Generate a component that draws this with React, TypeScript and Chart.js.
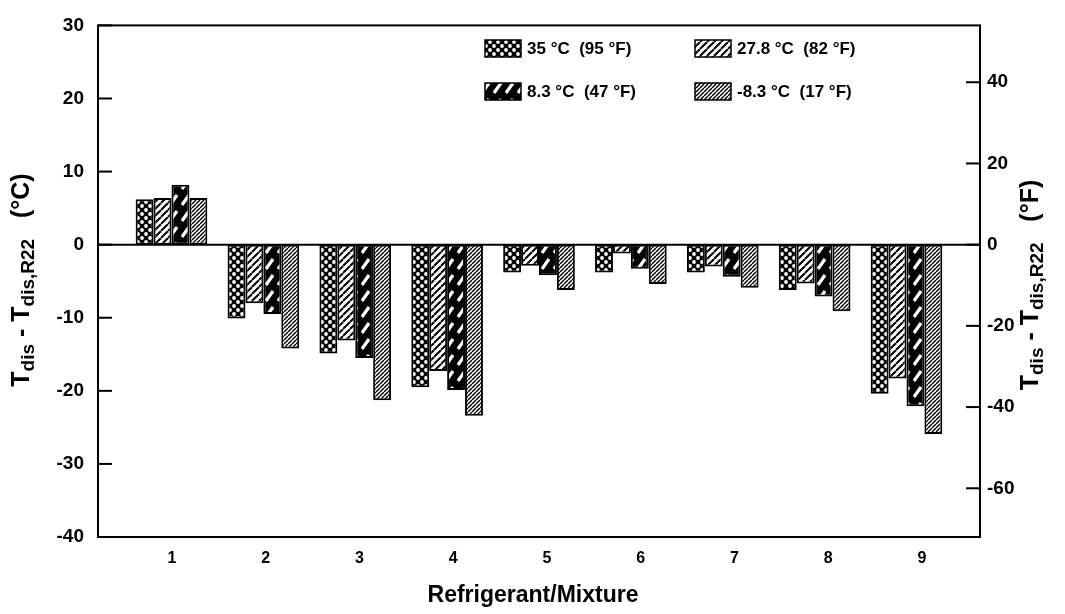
import React, { useEffect, useRef } from 'react';
import { Chart, registerables } from 'chart.js';
Chart.register(...registerables);

const categories = [1, 2, 3, 4, 5, 6, 7, 8, 9];
const seriesLabels = ['35 °C  (95 °F)', '27.8 °C  (82 °F)', '8.3 °C  (47 °F)', '-8.3 °C  (17 °F)'];
const s35 = [6.2, -10.1, -14.9, -19.5, -3.8, -3.8, -3.8, -6.2, -20.4];
const s278 = [6.4, -8.0, -13.1, -17.3, -2.9, -1.2, -3.0, -5.3, -18.3];
const s83 = [8.2, -9.5, -15.5, -19.9, -4.2, -3.3, -4.4, -7.1, -22.1];
const sm83 = [6.4, -14.2, -21.3, -23.4, -6.2, -5.4, -5.9, -9.1, -25.9];
const leftTicks = [30, 20, 10, 0, -10, -20, -30, -40];
const rightTicks = [40, 20, 0, -20, -40, -60];
const xTitle = 'Refrigerant/Mixture';

const FONT = '"Liberation Sans", Arial, Helvetica, sans-serif';

function makePattern(kind: number): CanvasPattern | string {
  const c = document.createElement('canvas');
  const ctx = c.getContext('2d');
  if (!ctx) return '#000';
  if (kind === 0) {
    c.width = 8; c.height = 8;
    ctx.fillStyle = '#000'; ctx.fillRect(0, 0, 8, 8);
    ctx.fillStyle = '#fff';
    [[2, 2], [6, 6]].forEach(([x, y]) => { ctx.beginPath(); ctx.arc(x, y, 1.9, 0, Math.PI * 2); ctx.fill(); });
  } else if (kind === 1) {
    c.width = 7; c.height = 7;
    ctx.fillStyle = '#fff'; ctx.fillRect(0, 0, 7, 7);
    ctx.strokeStyle = '#000'; ctx.lineWidth = 2;
    for (let k = -7; k <= 14; k += 7) { ctx.beginPath(); ctx.moveTo(k, 7); ctx.lineTo(k + 7, 0); ctx.stroke(); }
  } else if (kind === 2) {
    c.width = 12; c.height = 16;
    ctx.fillStyle = '#000'; ctx.fillRect(0, 0, 12, 16);
    ctx.strokeStyle = '#fff'; ctx.lineWidth = 3.2;
    ctx.beginPath(); ctx.moveTo(2, 13); ctx.lineTo(9, 3); ctx.stroke();
  } else {
    c.width = 4; c.height = 4;
    ctx.fillStyle = '#fff'; ctx.fillRect(0, 0, 4, 4);
    ctx.strokeStyle = '#000'; ctx.lineWidth = 1.4;
    for (let k = -4; k <= 8; k += 4) { ctx.beginPath(); ctx.moveTo(k, 4); ctx.lineTo(k + 4, 0); ctx.stroke(); }
  }
  return ctx.createPattern(c, 'repeat') || '#000';
}

function drawSubTitle(ctx: CanvasRenderingContext2D, cx: number, cy: number, unit: string) {
  const big = `bold 25px ${FONT}`;
  const small = `bold 19px ${FONT}`;
  const segs = [
    { t: 'T', f: big, dy: 0 },
    { t: 'dis', f: small, dy: 7 },
    { t: ' - T', f: big, dy: 0 },
    { t: 'dis,R22', f: small, dy: 7 },
    { t: `   (${unit})`, f: big, dy: 0 },
  ];
  ctx.save();
  ctx.translate(cx, cy);
  ctx.rotate(-Math.PI / 2);
  let total = 0;
  segs.forEach((s) => { ctx.font = s.f; total += ctx.measureText(s.t).width; });
  let x = -total / 2;
  ctx.fillStyle = '#000';
  ctx.textBaseline = 'middle';
  ctx.textAlign = 'left';
  segs.forEach((s) => { ctx.font = s.f; ctx.fillText(s.t, x, s.dy); x += ctx.measureText(s.t).width; });
  ctx.restore();
}

const framePlugin = {
  id: 'frame',
  afterDatasetsDraw(chart: any) {
    const { ctx, chartArea: a, scales } = chart;
    ctx.save();
    ctx.strokeStyle = '#000';
    ctx.lineWidth = 2;
    const y0 = scales.y.getPixelForValue(0);
    ctx.beginPath(); ctx.moveTo(a.left, y0); ctx.lineTo(a.right, y0); ctx.stroke();
    ctx.strokeRect(a.left, a.top, a.right - a.left, a.bottom - a.top);
    leftTicks.forEach((v) => {
      const y = scales.y.getPixelForValue(v);
      ctx.beginPath(); ctx.moveTo(a.left, y); ctx.lineTo(a.left + 14, y); ctx.stroke();
    });
    rightTicks.forEach((v) => {
      const y = scales.yF.getPixelForValue(v);
      ctx.beginPath(); ctx.moveTo(a.right - 14, y); ctx.lineTo(a.right, y); ctx.stroke();
    });
    // legend
    const ds = chart.data.datasets;
    const pos = [[485, 40], [695, 40], [485, 83], [695, 83]];
    ds.forEach((d: any, i: number) => {
      const [x, y] = pos[i];
      ctx.fillStyle = d.backgroundColor;
      ctx.fillRect(x, y, 36, 17);
      ctx.lineWidth = 1.5;
      ctx.strokeRect(x, y, 36, 17);
      ctx.fillStyle = '#000';
      ctx.font = `bold 17px ${FONT}`;
      ctx.textBaseline = 'middle';
      ctx.textAlign = 'left';
      ctx.fillText(d.label, x + 42, y + 9);
    });
    // titles
    drawSubTitle(ctx, 22, 280, '°C');
    drawSubTitle(ctx, 1031, 285, '°F');
    ctx.font = `bold 23px ${FONT}`;
    ctx.textAlign = 'center';
    ctx.textBaseline = 'middle';
    ctx.fillStyle = '#000';
    ctx.fillText(xTitle, 533, 596);
    ctx.restore();
  },
};

export default function App() {
  const ref = useRef<HTMLCanvasElement>(null);
  useEffect(() => {
    document.body.style.margin = '0';
    const canvas = ref.current;
    if (!canvas) return;
    const series = [s35, s278, s83, sm83];
    const chart = new Chart(canvas, {
      type: 'bar',
      data: {
        datasets: series.map((s, i) => ({
          label: seriesLabels[i],
          data: s.map((v, j) => ({ x: categories[j], y: v })),
          backgroundColor: makePattern(i) as any,
          borderColor: '#000',
          borderWidth: 2,
          borderSkipped: false,
          barPercentage: 1,
          categoryPercentage: 0.78,
          xAxisID: 'x',
          yAxisID: 'y',
        })),
      },
      options: {
        animation: false,
        responsive: false,
        devicePixelRatio: 1,
        layout: { padding: { top: 20, left: 0, right: 0, bottom: 0 } },
        plugins: { legend: { display: false }, tooltip: { enabled: false } },
        scales: {
          x: {
            type: 'linear',
            min: 0.2,
            max: 9.8,
            offset: false,
            display: false,
            grid: { display: false, offset: false },
            afterBuildTicks: (axis: any) => { axis.ticks = categories.map((v) => ({ value: v })); },
          },
          xLab: {
            type: 'linear',
            position: 'bottom',
            min: 0.21,
            max: 9.62,
            offset: false,
            grid: { display: false, offset: false, drawTicks: false },
            border: { display: false },
            afterBuildTicks: (axis: any) => { axis.ticks = categories.map((v) => ({ value: v })); },
            afterFit: (axis: any) => { axis.height = 77; },
            ticks: { color: '#000', font: { family: FONT, size: 16, weight: 'bold' }, padding: 12, callback: (v: any) => String(v) },
          },
          y: {
            type: 'linear',
            position: 'left',
            min: -40,
            max: 30,
            grid: { display: false, drawTicks: false },
            border: { display: false },
            afterBuildTicks: (axis: any) => { axis.ticks = leftTicks.map((v) => ({ value: v })); },
            afterFit: (axis: any) => { axis.width = 98; },
            ticks: { color: '#000', font: { family: FONT, size: 19, weight: 'bold' }, padding: 14 },
          },
          yF: {
            type: 'linear',
            position: 'right',
            min: -72,
            max: 54,
            grid: { display: false, drawTicks: false },
            border: { display: false },
            afterBuildTicks: (axis: any) => { axis.ticks = rightTicks.map((v) => ({ value: v })); },
            afterFit: (axis: any) => { axis.width = 85; },
            ticks: { color: '#000', font: { family: FONT, size: 19, weight: 'bold' }, padding: 7 },
          },
        },
      } as any,
      plugins: [framePlugin],
    });
    return () => chart.destroy();
  }, []);
  return (
    <div style={{ position: 'absolute', left: 0, top: 0, width: 1065, height: 614, background: '#fff' }}>
      <canvas ref={ref} width={1065} height={614} />
    </div>
  );
}
